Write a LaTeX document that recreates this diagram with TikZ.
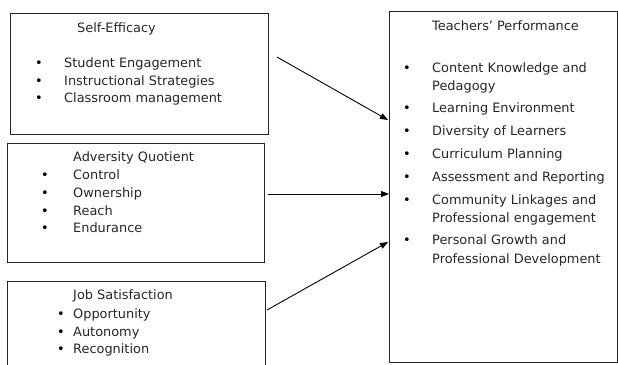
\documentclass[tikz,border=0pt]{standalone}
\usepackage{fontspec}
\setmainfont{DejaVu Sans}
\usetikzlibrary{arrows.meta}
\begin{document}
\begin{tikzpicture}[x=1pt,y=-1pt,
  box/.style={draw=black!85,line width=1pt,inner sep=0pt},
  txt/.style={anchor=mid west,inner sep=0pt,font=\fontsize{12.9}{15}\selectfont,text=black!85},
  bul/.style={anchor=mid,inner sep=0pt,font=\fontsize{12.9}{15}\selectfont,text=black},
  arr/.style={-{Triangle[length=8pt,width=6pt]},line width=0.9pt}]
\useasboundingbox (0,0) rectangle (618,364);
\clip (0,0) rectangle (618,364);
% frames
\node[box,minimum width=258pt,minimum height=121pt] (se) at (139,73.5) {};
\node[box,minimum width=257pt,minimum height=119pt] (aq) at (135.5,202.5) {};
\node[box,minimum width=258pt,minimum height=90pt] (js) at (136,326) {};
\node[box,minimum width=228pt,minimum height=351pt] (tp) at (503,186.5) {};
% Self-Efficacy
\node[txt] (se0) at (77,30) {Self-Efficacy};
\node[bul] (seb1) at (39,65) {•}; \node[txt] (se1) at (64,65) {Student Engagement};
\node[bul] (seb2) at (39,83) {•}; \node[txt] (se2) at (64,83) {Instructional Strategies};
\node[bul] (seb3) at (39,100) {•}; \node[txt] (se3) at (64,100) {Classroom management};
% Adversity Quotient
\node[txt] (aq0) at (73,159) {Adversity Quotient};
\node[bul] (aqb1) at (45,177) {•}; \node[txt] (aq1) at (73,177) {Control};
\node[bul] (aqb2) at (45,195) {•}; \node[txt] (aq2) at (73,195) {Ownership};
\node[bul] (aqb3) at (45,213) {•}; \node[txt] (aq3) at (73,213) {Reach};
\node[bul] (aqb4) at (45,230) {•}; \node[txt] (aq4) at (73,230) {Endurance};
% Job Satisfaction
\node[txt] (js0) at (73,297) {Job Satisfaction};
\node[bul] (jsb1) at (61,316) {•}; \node[txt] (js1) at (73,316) {Opportunity};
\node[bul] (jsb2) at (61,334) {•}; \node[txt] (js2) at (73,334) {Autonomy};
\node[bul] (jsb3) at (61,351) {•}; \node[txt] (js3) at (73,351) {Recognition};
% Teachers' Performance
\node[txt] (tp0) at (432,28) {Teachers’ Performance};
\node[bul] (tpb1) at (407,70) {•}; \node[txt] (tp1) at (432,70) {Content Knowledge and};
\node[txt] (tp1b) at (432,88) {Pedagogy};
\node[bul] (tpb2) at (407,110) {•}; \node[txt] (tp2) at (432,110) {Learning Environment};
\node[bul] (tpb3) at (407,133) {•}; \node[txt] (tp3) at (432,133) {Diversity of Learners};
\node[bul] (tpb4) at (407,156) {•}; \node[txt] (tp4) at (432,156) {Curriculum Planning};
\node[bul] (tpb5) at (407,179) {•}; \node[txt] (tp5) at (432,179) {Assessment and Reporting};
\node[bul] (tpb6) at (407,202) {•}; \node[txt] (tp6) at (432,202) {Community Linkages and};
\node[txt] (tp6b) at (432,220) {Professional engagement};
\node[bul] (tpb7) at (407,242) {•}; \node[txt] (tp7) at (432,242) {Personal Growth and};
\node[txt] (tp7b) at (432,261) {Professional Development};
% connectors
\coordinate (s1) at (277,57);  \coordinate (t1) at (388,120);
\coordinate (s2) at (268,194); \coordinate (t2) at (389,194);
\coordinate (s3) at (267,310); \coordinate (t3) at (388,242);
\draw[arr] (s1) -- (t1);
\draw[arr] (s2) -- (t2);
\draw[arr] (s3) -- (t3);
\end{tikzpicture}
\end{document}
